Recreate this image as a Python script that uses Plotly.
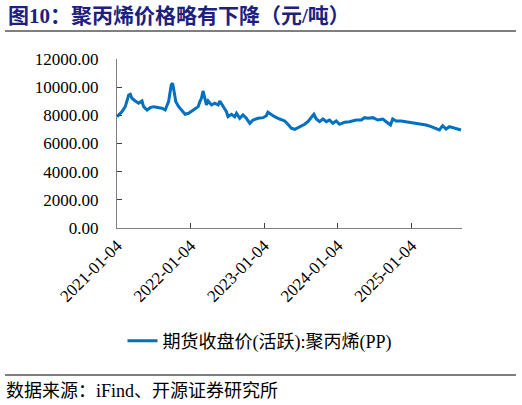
import plotly.graph_objects as go

dates = [
    "2021-01-04", "2021-01-14", "2021-01-29", "2021-02-14", "2021-03-03", "2021-03-11",
    "2021-03-19", "2021-04-05", "2021-04-21", "2021-05-08", "2021-05-16", "2021-06-02",
    "2021-06-18", "2021-07-05", "2021-07-30", "2021-08-15", "2021-08-31", "2021-09-17",
    "2021-09-30", "2021-10-07", "2021-10-13", "2021-10-23", "2021-11-06", "2021-11-22",
    "2021-12-08", "2021-12-25", "2022-01-19", "2022-02-11", "2022-02-19", "2022-02-27",
    "2022-03-07", "2022-03-16", "2022-03-24", "2022-04-01", "2022-04-18", "2022-05-04",
    "2022-05-21", "2022-05-29", "2022-06-14", "2022-07-01", "2022-07-09", "2022-07-26",
    "2022-08-11", "2022-08-20", "2022-09-05", "2022-09-21", "2022-10-08", "2022-10-25",
    "2022-11-10", "2022-12-05", "2022-12-30", "2023-01-15", "2023-01-23", "2023-02-09",
    "2023-02-25", "2023-03-22", "2023-04-16", "2023-05-02", "2023-05-19", "2023-06-05",
    "2023-06-21", "2023-07-08", "2023-07-24", "2023-08-09", "2023-08-26", "2023-09-08",
    "2023-09-20", "2023-10-06", "2023-10-23", "2023-11-09", "2023-11-25", "2023-12-11",
    "2023-12-28", "2024-01-13", "2024-02-07", "2024-03-03", "2024-04-05", "2024-04-30",
    "2024-05-16", "2024-06-02", "2024-06-27", "2024-07-21", "2024-08-15", "2024-09-09",
    "2024-09-22", "2024-10-03", "2024-10-20", "2024-11-14", "2024-12-09", "2025-01-03",
    "2025-01-27", "2025-02-21", "2025-03-18", "2025-04-12", "2025-05-07", "2025-05-23",
    "2025-06-08", "2025-06-25", "2025-07-11", "2025-07-28", "2025-08-14", "2025-09-07",
]
pp_price = [
    7900, 8050, 8260, 8615, 9446, 9496,
    9210, 9020, 8856, 9020, 8615, 8380,
    8544, 8615, 8544, 8500, 8380, 8970,
    10156, 10276, 9800, 8970, 8615, 8380,
    8075, 8146, 8380, 8615, 8970, 9210,
    9730, 9090, 8736, 9020, 8736, 8856,
    8736, 9020, 8615, 8260, 7905, 8075,
    7905, 8146, 7790, 8025, 7790, 7435,
    7670, 7790, 7835, 7975, 8215, 8025,
    7905, 7740, 7600, 7365, 7080, 7010,
    7125, 7265, 7365, 7550, 7835, 8075,
    7740, 7550, 7740, 7550, 7670, 7435,
    7600, 7365, 7505, 7550, 7670, 7670,
    7835, 7790, 7835, 7670, 7740, 7435,
    7315, 7740, 7600, 7600, 7550, 7505,
    7435, 7365, 7315, 7195, 7080, 6960,
    7265, 7030, 7195, 7125, 7080, 6960,
]
x_ticks = ["2021-01-04", "2022-01-04", "2023-01-04", "2024-01-04", "2025-01-04"]
y_ticks = [0, 2000, 4000, 6000, 8000, 10000, 12000]

series_name = "期货收盘价(活跃):聚丙烯(PP)"
title_text = "图10：聚丙烯价格略有下降（元/吨）"
source_text = "数据来源：iFind、开源证券研究所"

FONT = "Liberation Serif, Noto Sans CJK SC"

# plot area in pixels: x 117..462, y 59..228
PL, PR, PT, PB = 117, 462, 59, 228
PW, PH = PR - PL, PB - PT


def px_x(x):
    return (x - PL) / PW


def px_y(y):
    return (PB - y) / PH


fig = go.Figure()
fig.add_trace(go.Scatter(
    x=dates, y=pp_price, mode="lines", name=series_name,
    line=dict(color="#0070C0", width=3),
))

fig.update_layout(
    template="none",
    width=522, height=405,
    margin=dict(l=PL, r=522 - PR, t=PT, b=405 - PB, autoexpand=False),
    paper_bgcolor="white", plot_bgcolor="white",
    font=dict(family=FONT, size=17, color="#000000"),
    showlegend=True,
    legend=dict(
        orientation="h", x=px_x(260), xanchor="center",
        y=px_y(341), yanchor="middle",
        font=dict(family=FONT, size=18),
        bgcolor="rgba(0,0,0,0)",
    ),
    xaxis=dict(
        type="date",
        range=["2021-01-04", "2025-09-12"],
        tickmode="array", tickvals=x_ticks, ticktext=x_ticks,
        tickangle=-45,
        showline=True, linecolor="#808080", linewidth=1,
        ticks="inside", ticklen=5, tickcolor="#404040",
        showgrid=False, zeroline=False, automargin=False,
        tickfont=dict(family=FONT, size=17),
    ),
    yaxis=dict(
        range=[0, 12000],
        tickmode="array", tickvals=y_ticks,
        tickformat=".2f",
        showline=True, linecolor="#808080", linewidth=1,
        ticks="inside", ticklen=5, tickcolor="#404040",
        showgrid=False, zeroline=False, automargin=False,
        ticklabelstandoff=14,
        tickfont=dict(family=FONT, size=17),
    ),
    annotations=[
        dict(text="<b>" + title_text + "</b>", xref="paper", yref="paper",
             x=px_x(6), y=px_y(16.5),
             xanchor="left", yanchor="middle", showarrow=False,
             font=dict(family=FONT, size=21, color="#1c2180")),
        dict(text=source_text, xref="paper", yref="paper",
             x=px_x(4), y=px_y(391),
             xanchor="left", yanchor="middle", showarrow=False,
             font=dict(family=FONT, size=18, color="#000000")),
    ],
    shapes=[
        dict(type="line", xref="paper", yref="paper",
             x0=px_x(5), x1=px_x(516), y0=px_y(31), y1=px_y(31),
             line=dict(color="#000000", width=1)),
        dict(type="line", xref="paper", yref="paper",
             x0=px_x(5), x1=px_x(516), y0=px_y(375), y1=px_y(375),
             line=dict(color="#000000", width=1)),
    ],
)

fig.write_html(
    "out.html",
    config={"displayModeBar": False},
    post_script="document.body.style.margin='0';document.body.style.padding='0';",
)
